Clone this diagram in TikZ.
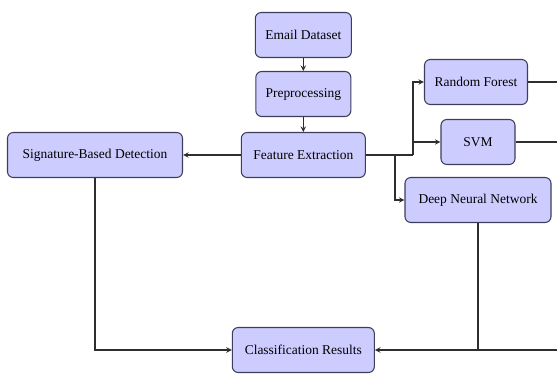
\documentclass[tikz,border=0pt]{standalone}
\usepackage{fontspec}
\setmainfont{Liberation Serif}
\definecolor{caixaFundo}{HTML}{CCCCFF}
\definecolor{caixaBorda}{HTML}{3E3E5A}
\definecolor{linhaCor}{HTML}{2E2E2E}

\begin{document}
\begin{tikzpicture}[
    >=stealth,
    font=\fontsize{11.5}{13}\selectfont,
    % Estilo padronizado para as caixas do fluxo
    caixa/.style={draw=caixaBorda, line width=0.9pt, fill=caixaFundo, rounded corners=5pt,
                  minimum height=1.35cm, inner xsep=6pt, align=center},
    % Estilo das ligacoes
    seta/.style={line width=1.1pt, draw=linhaCor}
]

% =========================================================
% === PARÂMETROS DA GRADE (1 px = 0.03 cm) ===
% =========================================================
\def\larg{16.71}    % Largura total da figura
\def\alt{11.19}     % Altura total da figura
\def\colC{9.1}      % Coluna central
\def\colD{14.34}    % Coluna dos classificadores
\def\linF{-4.65}    % Linha da extracao de atributos
\def\linR{-10.5}    % Linha dos resultados
% =========================================================

\useasboundingbox (0,0) rectangle (\larg,-\alt);

% --- Coluna central ---
\node[caixa, minimum width=2.88cm] (email) at (\colC,-1.05) {Email Dataset};
\node[caixa, minimum width=2.85cm] (prep) at (\colC,-2.82) {Preprocessing};
\node[caixa, minimum width=3.72cm] (feat) at (\colC,\linF) {Feature Extraction};

% --- Deteccao por assinatura (esquerda) ---
\node[caixa, minimum width=5.25cm] (sig) at (2.85,\linF) {Signature-Based Detection};

% --- Classificadores (direita) ---
\node[caixa, minimum width=3.09cm] (rf) at (14.28,-2.46) {Random Forest};
\node[caixa, minimum width=2.22cm] (svm) at (\colD,-4.26) {SVM};
\node[caixa, minimum width=4.38cm] (dnn) at (\colD,-6.0) {Deep Neural Network};

% --- Resultados ---
\node[caixa, minimum width=4.26cm] (cls) at (\colC,\linR) {Classification Results};

% --- Pontos auxiliares (ramificacoes e saidas pela borda) ---
\coordinate (ramoA) at (12.39,\linF);
\coordinate (ramoB) at (11.85,\linF);
\coordinate (rfSai) at (\larg,-2.46);
\coordinate (svmSai) at (\larg,-4.26);
\coordinate (clsEnt) at (\larg,\linR);

% --- Setas verticais ---
\draw[->, seta] (email.south) -- (prep.north);
\draw[->, seta] (prep.south) -- (feat.north);

% --- Extracao -> assinatura e classificadores ---
\draw[->, seta] (feat.west) -- (sig.east);
\draw[seta] (feat.east) -- (ramoA);
\draw[->, seta] (ramoA) |- (rf.west);
\draw[->, seta] (ramoA) |- (svm.west);
\draw[->, seta] (ramoB) |- (dnn.west);

% --- Saidas pela borda direita ---
\draw[seta] (rf.east) -- (rfSai);
\draw[seta] (svm.east) -- (svmSai);

% --- Retorno para os resultados ---
\draw[->, seta] (sig.south) |- (cls.west);
\draw[->, seta] (clsEnt) -- (cls.east);
\draw[seta] (dnn.south) -- (dnn.south |- cls.east);

\end{tikzpicture}
\end{document}
